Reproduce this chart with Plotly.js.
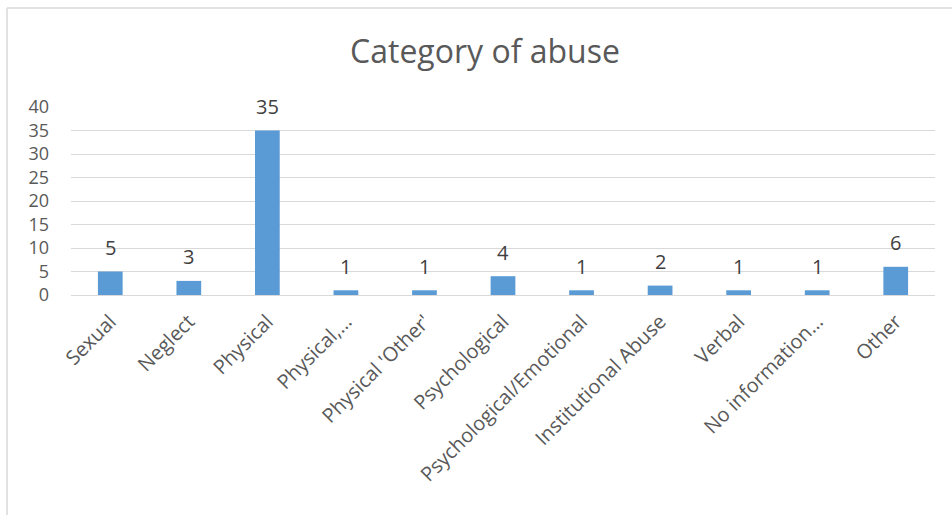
<!DOCTYPE html>
<html>
<head>
<meta charset="utf-8">
<script src="https://cdn.plot.ly/plotly-3.0.1.min.js"></script>
<style>html,body{margin:0;padding:0;background:#fff;}#chart{width:952px;height:515px;}</style>
</head>
<body>
<div id="chart"></div>
<script>
var categories = ["Sexual", "Neglect", "Physical", "Physical,…", "Physical 'Other'", "Psychological", "Psychological/Emotional", "Institutional Abuse", "Verbal", "No information…", "Other"];
var counts = [5, 3, 35, 1, 1, 4, 1, 2, 1, 1, 6];
var yTicks = [0, 5, 10, 15, 20, 25, 30, 35, 40];

var W = 952, H = 515;
var m = {l: 71, r: 17, t: 107, b: 220};
var pw = W - m.l - m.r, ph = H - m.t - m.b;
function px2x(p) { return (p - m.l) / pw; }
function py2y(p) { return (H - m.b - p) / ph; }

var FONT = 'Open Sans, Noto Sans, sans-serif';

var trace = {
  type: 'bar',
  x: categories,
  y: counts,
  marker: {color: '#5B9BD5'},
  hoverinfo: 'x+y'
};

var labelAnnotations = categories.map(function (c, i) {
  return {
    x: c, y: counts[i], xref: 'x', yref: 'y',
    text: String(counts[i]),
    showarrow: false,
    yanchor: 'middle', xanchor: 'center',
    yshift: 24,
    font: {family: FONT, size: 20, color: '#404040'}
  };
});

var layout = {
  width: W, height: H,
  margin: m,
  paper_bgcolor: '#ffffff',
  plot_bgcolor: '#ffffff',
  bargap: 0.685,
  showlegend: false,
  title: {
    text: 'Category of abuse',
    font: {family: FONT, size: 32, color: '#595959'},
    x: 485 / W, xanchor: 'center',
    y: 1 - 52 / H, yanchor: 'middle'
  },
  xaxis: {
    type: 'category',
    tickangle: -45,
    tickfont: {family: FONT, size: 20, color: '#595959'},
    showgrid: false,
    showline: true,
    linecolor: '#d9d9d9',
    linewidth: 1,
    ticks: '',
    ticklabelstandoff: 6,
    automargin: false
  },
  yaxis: {
    range: [0, 40],
    tickvals: yTicks,
    ticktext: yTicks.map(String),
    tickfont: {family: FONT, size: 18, color: '#595959'},
    showgrid: true,
    gridcolor: '#d9d9d9',
    gridwidth: 1,
    zeroline: false,
    showline: false,
    ticks: '',
    ticklabelstandoff: 21,
    automargin: false
  },
  annotations: labelAnnotations,
  shapes: [
    {type: 'line', xref: 'paper', yref: 'paper', x0: px2x(7), x1: px2x(7), y0: py2y(515), y1: py2y(8), line: {color: '#d9d9d9', width: 1.5}},
    {type: 'line', xref: 'paper', yref: 'paper', x0: px2x(7), x1: px2x(952), y0: py2y(8), y1: py2y(8), line: {color: '#d9d9d9', width: 1.5}}
  ]
};

Plotly.newPlot('chart', [trace], layout, {displayModeBar: false, staticPlot: true});
</script>
</body>
</html>
